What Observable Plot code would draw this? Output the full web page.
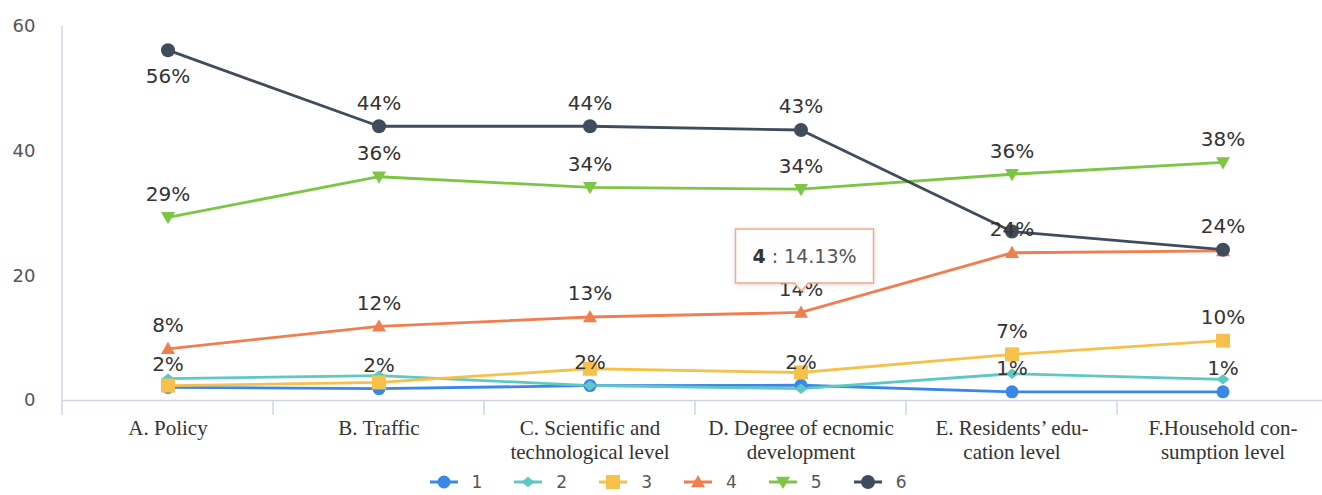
<!DOCTYPE html>
<html>
<head>
<meta charset="utf-8">
<script src="https://cdn.jsdelivr.net/npm/d3@7"></script>
<script src="https://cdn.jsdelivr.net/npm/@observablehq/plot@0.6"></script>
<style>
  body { margin: 0; background: #fff; }
  #legend { display: flex; justify-content: center; align-items: center; height: 20px; line-height: 20px; margin: 0;
            font: 17px "DejaVu Sans", sans-serif; color: #555; padding-left: 14px; }
  .item { display: flex; align-items: center; margin: 0 16px; }
  .item svg { margin-right: 14px; }
</style>
</head>
<body>
<div id="chart"></div>
<div id="legend"></div>
<script>
// ---------- data ----------
const categories = [
  "A. Policy",
  "B. Traffic",
  "C. Scientific and\ntechnological level",
  "D. Degree of ecnomic\ndevelopment",
  "E. Residents’ edu-\ncation level",
  "F.Household con-\nsumption level"
];
const seriesNames = ["1", "2", "3", "4", "5", "6"];
const s1 = [2.1, 1.9, 2.4, 2.45, 1.4, 1.4];
const s2 = [3.5, 4.0, 2.4, 1.9, 4.3, 3.4];
const s3 = [2.4, 2.9, 5.1, 4.5, 7.4, 9.6];
const s4 = [8.3, 11.9, 13.4, 14.13, 23.7, 24.0];
const s5 = [29.4, 35.9, 34.2, 33.9, 36.3, 38.2];
const s6 = [56.2, 44.0, 44.0, 43.4, 27.1, 24.2];
const yTicks = [0, 20, 40, 60];
// which points carry a value label (category indexes per series)
const labeled1 = [0, 1, 2, 3, 4, 5];
const labeled2 = [];
const labeled3 = [4, 5];
const labeled4 = [0, 1, 2, 3, 4];
const labeled5 = [0, 1, 2, 3, 4, 5];
const labeled6 = [0, 1, 2, 3, 5];
const labelBelow = [["6", 0]];
// highlighted tooltip
const tipSeries = "4";
const tipCategory = 3;

// ---------- styles ----------
const colors = ["#3b87e6", "#5ec8c2", "#f5c14b", "#ef7e50", "#7dc545", "#3f4c5b"];
const axisColor = "#cdd5e5";
const W = 1322, H = 472;

const seriesValues = [s1, s2, s3, s4, s5, s6];
const labeledIdx = [labeled1, labeled2, labeled3, labeled4, labeled5, labeled6];
const data = seriesNames.flatMap((s, i) =>
  categories.map((c, j) => ({series: s, category: c, value: seriesValues[i][j], ci: j})));
const labelData = data.filter(d => labeledIdx[seriesNames.indexOf(d.series)].includes(d.ci));
const isBelow = d => labelBelow.some(([s, c]) => s === d.series && c === d.ci);

// custom symbols (size = pi r^2)
const rOf = size => Math.sqrt(size / Math.PI);
const diamondSym = {draw(ctx, size) { const r = rOf(size); ctx.moveTo(0, -r * 0.8); ctx.lineTo(r, 0); ctx.lineTo(0, r * 0.8); ctx.lineTo(-r, 0); ctx.closePath(); }};
const squareSym = {draw(ctx, size) { const r = rOf(size); ctx.rect(-r, -r, 2 * r, 2 * r); }};
const triUpSym = {draw(ctx, size) { const r = rOf(size); ctx.moveTo(0, -r); ctx.lineTo(r, r * 0.75); ctx.lineTo(-r, r * 0.75); ctx.closePath(); }};
const triDownSym = {draw(ctx, size) { const r = rOf(size); ctx.moveTo(0, r); ctx.lineTo(r, -r * 0.75); ctx.lineTo(-r, -r * 0.75); ctx.closePath(); }};
const symbols = ["circle", diamondSym, squareSym, triUpSym, triDownSym, "circle"];
const radii = [6.5, 6.5, 7, 7, 7, 7];

const marks = [
  Plot.ruleY([0], {stroke: axisColor, strokeWidth: 1.5}),
  // category boundary ticks & y axis line
  (index, scales, values, dims) => {
    const {x, y} = scales;
    const g = d3.create("svg:g");
    const bottom = dims.height - dims.marginBottom;
    categories.forEach((c, i) => {
      const px = x(c);
      g.append("line").attr("x1", px).attr("x2", px)
        .attr("y1", i === 0 ? y(yTicks[yTicks.length - 1]) : y(0)).attr("y2", bottom)
        .attr("stroke", axisColor).attr("stroke-width", 1.5);
    });
    return g.node();
  }
];
seriesNames.forEach((s, i) => {
  const rows = data.filter(d => d.series === s);
  marks.push(Plot.line(rows, {x: "category", y: "value", stroke: colors[i], strokeWidth: 2.8}));
});
seriesNames.forEach((s, i) => {
  const rows = data.filter(d => d.series === s);
  marks.push(Plot.dot(rows, {x: "category", y: "value", fill: colors[i], stroke: "none", symbol: symbols[i], r: radii[i]}));
});
marks.push(Plot.text(labelData.filter(d => !isBelow(d)), {
  x: "category", y: "value", text: d => Math.round(d.value) + "%", dy: -23,
  fontSize: 20, fontFamily: "DejaVu Sans", fill: "#333"
}));
marks.push(Plot.text(labelData.filter(isBelow), {
  x: "category", y: "value", text: d => Math.round(d.value) + "%", dy: 26,
  fontSize: 20, fontFamily: "DejaVu Sans", fill: "#333"
}));
// x category labels
marks.push(Plot.text(categories, {
  x: d => d, frameAnchor: "bottom", lineAnchor: "top", dy: 3, lineHeight: 1.12,
  fontSize: 21, fontFamily: "Liberation Serif", fill: "#333"
}));
// tooltip
marks.push((index, scales, values, dims) => {
  const {x, y} = scales;
  const bw = x.bandwidth ? x.bandwidth() : 0;
  const tip = data.find(d => d.series === tipSeries && d.ci === tipCategory);
  const cx = x(tip.category) + bw / 2 + 4;
  const py = y(tip.value);
  const bottom = py - 29, w = 138, h = 54, top = bottom - h, left = cx - w / 2, right = cx + w / 2;
  const g = d3.create("svg:g");
  const defs = g.append("defs");
  const f = defs.append("filter").attr("id", "tipShadow").attr("x", "-20%").attr("y", "-30%").attr("width", "140%").attr("height", "160%");
  f.append("feDropShadow").attr("dx", 0).attr("dy", 1).attr("stdDeviation", 2.5).attr("flood-color", "#000").attr("flood-opacity", 0.15);
  const ax = cx - 3;
  g.append("path")
    .attr("d", `M${left},${top}H${right}V${bottom}H${ax + 7}L${ax},${bottom + 8}L${ax - 7},${bottom}H${left}Z`)
    .attr("fill", "rgba(255,255,255,0.93)").attr("stroke", "#f0ab8c").attr("stroke-width", 1.5)
    .attr("filter", "url(#tipShadow)");
  const t = g.append("text").attr("x", cx).attr("y", top + h / 2).attr("dy", "0.35em")
    .attr("text-anchor", "middle").attr("font-family", "DejaVu Sans").attr("font-size", 19).attr("fill", "#555");
  t.append("tspan").attr("font-weight", "bold").attr("fill", "#333").text(tip.series);
  t.append("tspan").text(" : " + tip.value.toFixed(2) + "%");
  return g.node();
});

const chart = Plot.plot({
  width: W,
  height: H,
  marginLeft: 62,
  marginRight: -6,
  marginTop: 26,
  marginBottom: 57,
  style: {fontFamily: "DejaVu Sans", fontSize: "18px", color: "#555", background: "#fff", overflow: "visible"},
  x: {type: "band", domain: categories, padding: 0, axis: null},
  y: {domain: [-2.4, 60], ticks: yTicks, tickSize: 0, tickPadding: 27, label: null},
  marks
});
document.getElementById("chart").appendChild(chart);

// ---------- legend ----------
const legend = d3.select("#legend");
seriesNames.forEach((s, i) => {
  const item = legend.append("div").attr("class", "item");
  const svg = item.append("svg").attr("width", 28).attr("height", 16);
  svg.append("line").attr("x1", 0).attr("x2", 28).attr("y1", 8).attr("y2", 8).attr("stroke", colors[i]).attr("stroke-width", 3);
  const sym = typeof symbols[i] === "string" ? d3.symbolCircle : symbols[i];
  svg.append("path").attr("transform", "translate(14,8)")
    .attr("d", d3.symbol(sym, Math.PI * radii[i] * radii[i])()).attr("fill", colors[i]);
  item.append("span").text(s);
});
</script>
</body>
</html>
